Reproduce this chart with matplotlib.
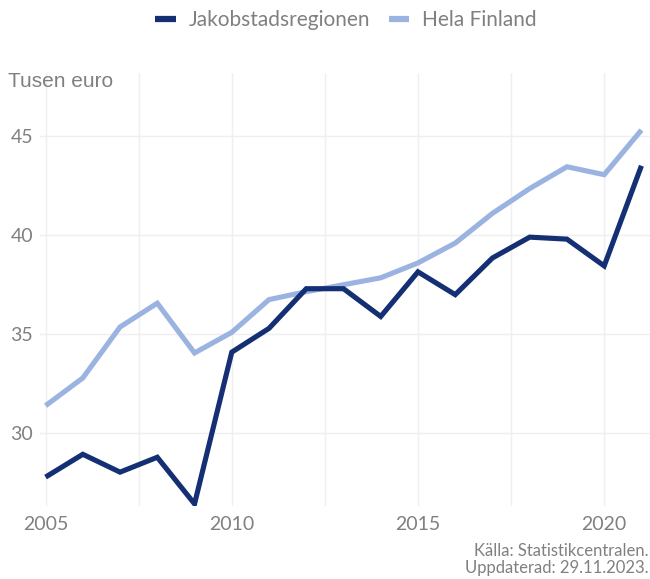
import matplotlib
matplotlib.use('Agg')
import matplotlib.pyplot as plt
from matplotlib.ticker import MultipleLocator

# Data
years = list(range(2005, 2022))
jakobstad = [27.8, 28.95, 28.05, 28.8, 26.45, 34.1, 35.3, 37.3, 37.3, 35.9,
             38.15, 37.0, 38.85, 39.9, 39.8, 38.45, 43.5]
finland = [31.4, 32.8, 35.37, 36.57, 34.06, 35.1, 36.75, 37.15, 37.5, 37.85,
           38.6, 39.6, 41.1, 42.35, 43.45, 43.05, 45.3]
series_names = ['Jakobstadsregionen', 'Hela Finland']
colors = ['#142f73', '#9bb3e0']
x_ticks = [2005, 2010, 2015, 2020]
y_ticks = [30, 35, 40, 45]

grey = '#808080'
plt.rcParams['font.family'] = ['Lato', 'DejaVu Sans']

fig = plt.figure(figsize=(6.5, 5.79), dpi=100)
ax = fig.add_axes([0.0615, 0.126, 0.9385, 0.748])

ax.plot(years, jakobstad, color=colors[0], linewidth=3.7, label=series_names[0],
        solid_capstyle='butt', solid_joinstyle='miter', zorder=3)
ax.plot(years, finland, color=colors[1], linewidth=3.7, label=series_names[1],
        solid_capstyle='butt', solid_joinstyle='miter', zorder=2)

ax.set_xlim(2004.85, 2021.23)
ax.set_ylim(26.34, 48.18)
ax.set_xticks(x_ticks)
ax.set_yticks(y_ticks)
ax.xaxis.set_minor_locator(MultipleLocator(2.5))
ax.grid(True, which='major', color='#efefef', linewidth=1.0)
ax.grid(True, which='minor', axis='x', color='#efefef', linewidth=1.0)
ax.set_axisbelow(True)
for s in ax.spines.values():
    s.set_visible(False)
ax.tick_params(which='both', length=0, labelsize=14, labelcolor=grey)
ax.tick_params(axis='x', pad=7)
ax.tick_params(axis='y', pad=5)

fig.text(0.012, 0.86, 'Tusen euro', fontsize=15, color=grey,
         family=['Liberation Sans Narrow', 'Liberation Sans'], va='center')

leg = fig.legend(loc='upper center', bbox_to_anchor=(0.532, 1.0), ncol=2,
                 frameon=False, fontsize=15, handlelength=1.0,
                 columnspacing=0.9, handletextpad=0.6, borderaxespad=0.1)
for t in leg.get_texts():
    t.set_color(grey)
for h in leg.legend_handles:
    h.set_linewidth(4.5)

fig.text(0.998, 0.034, 'Källa: Statistikcentralen.\nUppdaterad: 29.11.2023.',
         ha='right', va='center', fontsize=12, color=grey, linespacing=1.05)

fig.savefig('out.png', dpi=100)
